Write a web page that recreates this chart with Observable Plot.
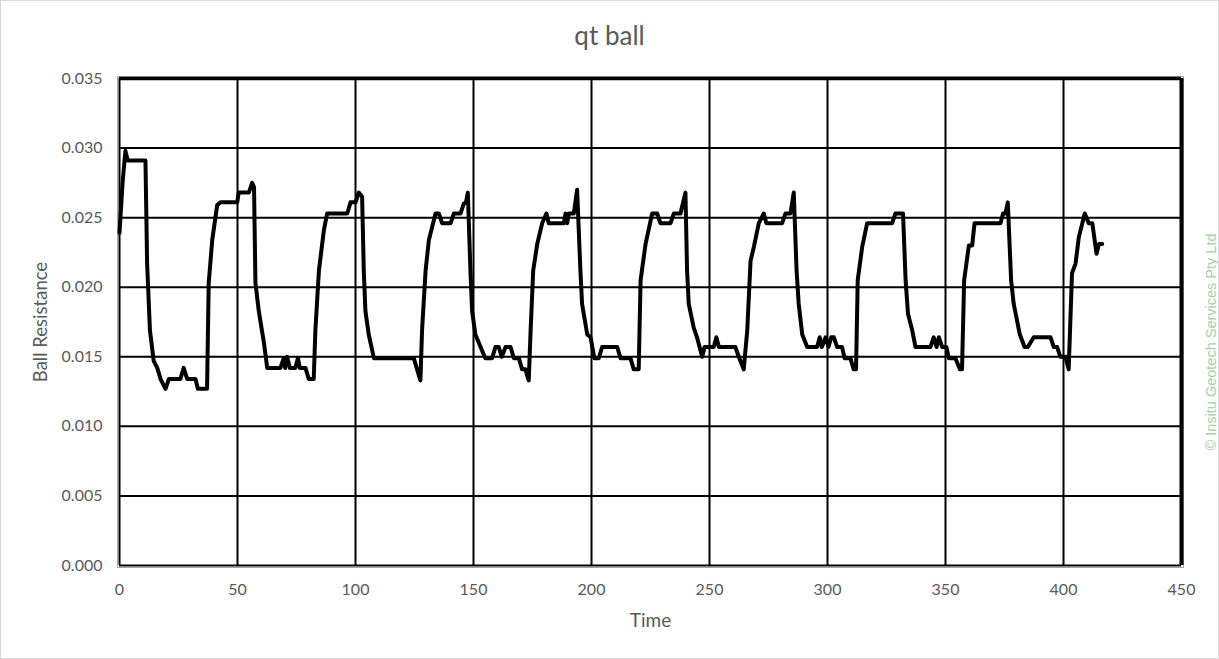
<!DOCTYPE html>
<html>
<head>
<meta charset="utf-8">
<script src="https://cdn.jsdelivr.net/npm/d3@7"></script>
<script src="https://cdn.jsdelivr.net/npm/@observablehq/plot@0.6"></script>
<style>
  body { margin: 0; background: #fff; }
  #wrap { position: relative; width: 1219px; height: 659px; }
  #border { position: absolute; left: 0; top: 0; width: 1217px; height: 657px; border: 1px solid #d9d9d9; pointer-events: none; }
</style>
</head>
<body>
<div id="wrap"><div id="chart"></div><div id="border"></div></div>
<script>
const title = "qt ball";
const xLabel = "Time";
const yLabel = "Ball Resistance";
const credit = "© Insitu Geotech Services Pty Ltd";
const xTicks = [0, 50, 100, 150, 200, 250, 300, 350, 400, 450];
const yTicks = [0, 0.005, 0.010, 0.015, 0.020, 0.025, 0.030, 0.035];

const time = [
  0, 1.3, 2.5, 3.5, 11, 11.7, 12.9, 14.5, 16, 17.4, 19.5, 20.9, 25.8, 27.2, 28.7, 32.2, 33.2, 37.1,
  37.8, 39.3, 41.4, 42.8, 49.9, 50.5, 54.8, 56.2, 57.0, 57.6, 59, 61.2, 62.6, 68.2, 69.6, 70.2, 71,
  72.2, 74.5, 75.6, 76.4, 78.8, 80.2, 82.3, 83, 84.5, 86.6, 88, 96.5, 97.9, 100, 101.4, 102.8,
  103.5, 104.2, 105.6, 107.8, 124.7, 126.1, 127.5, 128.2, 129.7, 131.1, 133.9, 135.3, 136.7, 140.3,
  141.7, 144.5, 145.9, 146.8, 147.6, 148.7, 149.4, 150.8, 153, 155, 157.9, 159.3, 160.7, 162, 163.6,
  165.7, 167.1, 169.2, 170.6, 172, 173.4, 174.2, 175.3, 177, 179.1, 180.9, 181.9, 188.3, 189, 189.7,
  190.4, 192.5, 193.9, 195.3, 196, 198.2, 199.6, 201.2, 203.1, 204.5, 210.9, 212.3, 216.5, 217.9,
  220, 220.8, 222.9, 225.7, 227.8, 229.2, 233.5, 234.9, 237.7, 239.8, 240.5, 241.2, 243.3, 244.7,
  246.9, 247.9, 251.8, 252.9, 254, 261, 262.4, 264.5, 266, 267.4, 268.8, 270.9, 273, 274.1, 280.8,
  282.2, 284.3, 285.7, 286.9, 287.8, 289.3, 291.4, 295.6, 296.7, 297.6, 299.2, 300.4, 301.6, 302.7,
  304.1, 306.2, 307.2, 309.7, 311.1, 312.1, 312.8, 314.7, 316.8, 327.4, 328.8, 332, 333.1, 334.1,
  335.9, 337.3, 343.6, 345, 346.2, 347.2, 348.6, 350.4, 351.4, 354.2, 356.1, 357, 357.9, 359.9,
  361.3, 362.3, 373.3, 374.4, 375.4, 376.4, 377.8, 378.9, 381.5, 383.5, 384.9, 387.4, 394.5, 395.9,
  397.3, 398.7, 400.8, 402.2, 403.6, 405.1, 406.5, 409, 410.7, 412.2, 414, 415, 416.4
];
const resistance = [
  0.0239, 0.0275, 0.0298, 0.0291, 0.0291, 0.0217, 0.0169, 0.0147, 0.0142, 0.0134, 0.0127, 0.0134, 0.0134, 0.0142, 0.0134, 0.0134, 0.0127, 0.0127,
  0.0203, 0.0234, 0.0259, 0.0261, 0.0261, 0.0268, 0.0268, 0.0275, 0.0272, 0.0203, 0.0183, 0.0160, 0.0142, 0.0142, 0.0149, 0.0142, 0.0150,
  0.0142, 0.0142, 0.0149, 0.0142, 0.0142, 0.0134, 0.0134, 0.0169, 0.0212, 0.0241, 0.0253, 0.0253, 0.0261, 0.0261, 0.0268, 0.0265,
  0.0212, 0.0183, 0.0166, 0.0149, 0.0149, 0.0141, 0.0133, 0.0169, 0.0212, 0.0234, 0.0253, 0.0253, 0.0246, 0.0246,
  0.0253, 0.0253, 0.0260, 0.0261, 0.0268, 0.0212, 0.0183, 0.0166, 0.0157, 0.0149, 0.0149, 0.0157, 0.0157, 0.0150, 0.0157,
  0.0157, 0.0149, 0.0149, 0.0141, 0.0141, 0.0133, 0.0169, 0.0212, 0.0231, 0.0246, 0.0253, 0.0246, 0.0246, 0.0253, 0.0246,
  0.0253, 0.0253, 0.0270, 0.0212, 0.0188, 0.0166, 0.0164, 0.0149, 0.0149, 0.0157, 0.0157, 0.0149, 0.0149, 0.0141,
  0.0141, 0.0205, 0.0231, 0.0253, 0.0253, 0.0246, 0.0246, 0.0253, 0.0253, 0.0268, 0.0212, 0.0188, 0.0171, 0.0164,
  0.0150, 0.0157, 0.0157, 0.0164, 0.0157, 0.0157, 0.0150, 0.0141, 0.0169, 0.0219, 0.0229, 0.0246, 0.0253, 0.0246, 0.0246,
  0.0253, 0.0253, 0.0268, 0.0212, 0.0188, 0.0166, 0.0157, 0.0157, 0.0164, 0.0157, 0.0164, 0.0157, 0.0164, 0.0164,
  0.0157, 0.0157, 0.0149, 0.0149, 0.0141, 0.0141, 0.0205, 0.0229, 0.0246, 0.0246, 0.0253, 0.0253, 0.0205, 0.0181,
  0.0169, 0.0157, 0.0157, 0.0164, 0.0157, 0.0164, 0.0157, 0.0157, 0.0149, 0.0149, 0.0141, 0.0141, 0.0205, 0.0230,
  0.0230, 0.0246, 0.0246, 0.0253, 0.0253, 0.0261, 0.0205, 0.0188, 0.0166, 0.0157, 0.0157, 0.0164, 0.0164, 0.0157,
  0.0157, 0.0150, 0.0150, 0.0141, 0.0210, 0.0217, 0.0236, 0.0253, 0.0246, 0.0246, 0.0224, 0.0231, 0.0231
];

const data = time.map((t, i) => ({t, v: resistance[i]}));
const font = "Lato, 'Open Sans', sans-serif";
const grey = "#595959";

const chart = Plot.plot({
  width: 1219,
  height: 659,
  marginLeft: 119,
  marginRight: 38,
  marginTop: 78,
  marginBottom: 94,
  style: {fontFamily: font, background: "#fff", overflow: "visible"},
  x: {domain: [0, 450]},
  y: {domain: [0, 0.035]},
  marks: [
    Plot.frame({stroke: "#a6a6a6", strokeWidth: 1, inset: -2}),
    Plot.gridX(xTicks.slice(1, -1), {stroke: "#000", strokeOpacity: 1, strokeWidth: 2}),
    Plot.gridY(yTicks.slice(1, -1), {stroke: "#000", strokeOpacity: 1, strokeWidth: 2}),
    Plot.ruleY([0.035], {stroke: "#000", strokeWidth: 3.5}),
    Plot.ruleX([450], {stroke: "#000", strokeWidth: 4}),
    Plot.ruleY([0], {stroke: "#000", strokeWidth: 2}),
    Plot.ruleX([0], {stroke: "#000", strokeWidth: 2}),
    Plot.axisX(xTicks, {tickSize: 0, tickPadding: 18, fontSize: 16, fill: grey, label: null}),
    Plot.axisY(yTicks, {tickSize: 0, tickPadding: 17, fontSize: 16, fill: grey, label: null, tickFormat: d3.format(".3f")}),
    Plot.line(data, {x: "t", y: "v", stroke: "#000", strokeWidth: 4, strokeLinejoin: "round"}),
    Plot.text([title], {frameAnchor: "top", dy: -42, dx: -41, lineAnchor: "middle", textAnchor: "middle", fontSize: 26, fill: grey}),
    Plot.text([xLabel], {frameAnchor: "bottom", dy: 55, lineAnchor: "middle", textAnchor: "middle", fontSize: 19, fill: grey}),
    Plot.text([yLabel], {frameAnchor: "left", dx: -78, rotate: -90, lineAnchor: "middle", textAnchor: "middle", fontSize: 18.5, fill: grey}),
    Plot.text([credit], {frameAnchor: "right", dx: 30, dy: 20, rotate: -90, lineAnchor: "middle", textAnchor: "middle", fontSize: 14.5, fill: "#a3d3a3", fontFamily: "'Liberation Sans', Arial, sans-serif"})
  ]
});
document.getElementById("chart").appendChild(chart);
</script>
</body>
</html>
